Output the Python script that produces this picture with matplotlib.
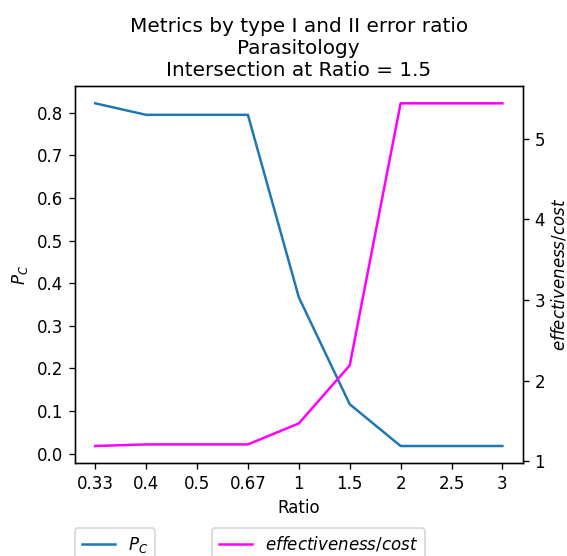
import matplotlib
matplotlib.use('Agg')
import matplotlib.pyplot as plt

# x categories (ratio of type I / type II error)
ratios = ['0.33', '0.4', '0.5', '0.67', '1', '1.5', '2', '2.5', '3']
pc_values = [0.822, 0.795, 0.795, 0.795, 0.367, 0.116, 0.018, 0.018, 0.018]
eff_cost = [1.19, 1.21, 1.21, 1.21, 1.47, 2.19, 5.44, 5.44, 5.44]

dpi = 120
fig = plt.figure(figsize=(567 / dpi, 556 / dpi), dpi=dpi)
ax = fig.add_axes([0.132, 0.167, 0.790, 0.678])
ax2 = ax.twinx()

x = range(len(ratios))
line1, = ax.plot(x, pc_values, color='tab:blue', label='$P_C$')
line2, = ax2.plot(x, eff_cost, color='#ff00ff', label='$effectiveness/cost$')

ax.set_xticks(list(x))
ax.set_xticklabels(ratios)
ax.set_xlabel('Ratio')
ax.set_ylabel('$P_C$')
ax2.set_ylabel('$effectiveness/cost$', labelpad=2.5)
ax.set_title('Metrics by type I and II error ratio\nParasitology\nIntersection at Ratio = 1.5')

# two separate legends below the plot (partly cut off like the original)
fig.legend(handles=[line1], loc='upper left', bbox_to_anchor=(0.132, 0.05),
           borderaxespad=0)
fig.legend(handles=[line2], loc='upper left', bbox_to_anchor=(0.374, 0.05),
           borderaxespad=0)

fig.savefig('out.png', dpi=dpi)
